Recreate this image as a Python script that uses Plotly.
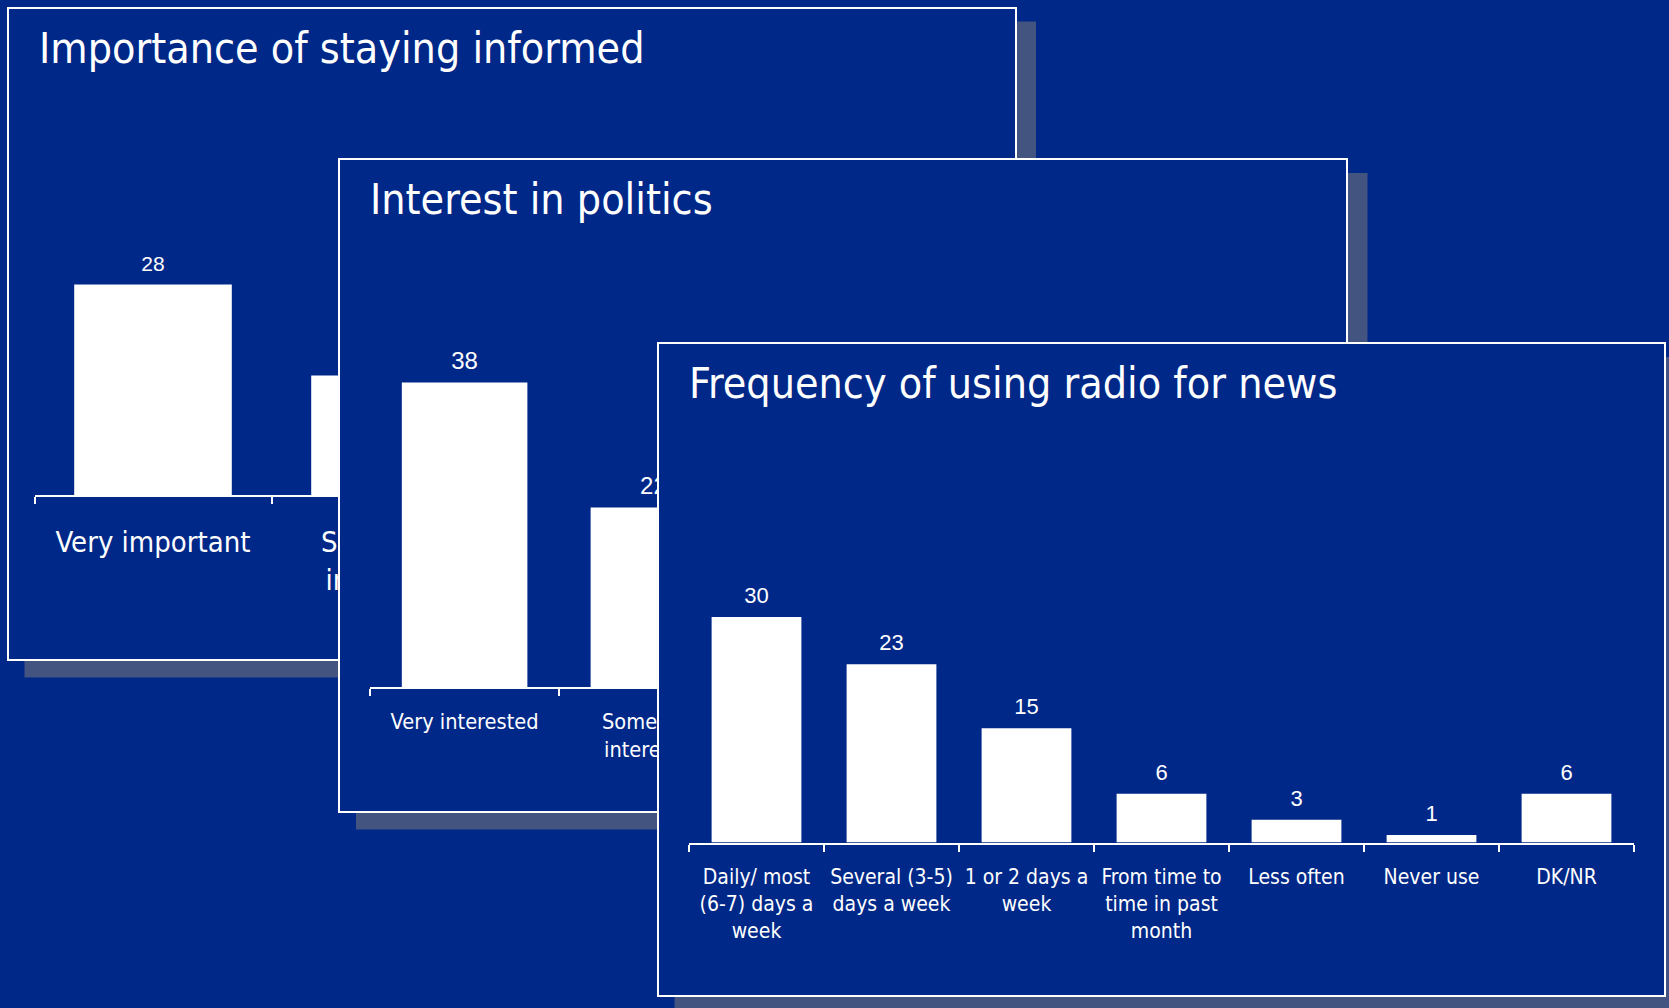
import plotly.graph_objects as go

W, H = 1669, 1008
BG = '#002888'
SHADOW = '#435480'

# ---------------- data ----------------
titles = ["Importance of staying informed", "Interest in politics",
          "Frequency of using radio for news"]

imp_cats = ["Very important", "Somewhat<br>important", "Not very<br>important",
            "Not at all<br>important"]
imp_vals = [28.0, 15.9, 31.0, 23.0]

pol_cats = ["Very interested", "Somewhat<br>interested", "Not very<br>interested",
            "Not at all<br>interested", "DK/NR"]
pol_vals = [38.0, 22.4, 20.0, 18.0, 2.0]

radio_cats = ["Daily/ most<br>(6-7) days a<br>week", "Several (3-5)<br>days a week",
              "1 or 2 days a<br>week", "From time to<br>time in past<br>month",
              "Less often", "Never use", "DK/NR"]
radio_vals = [29.6, 23.4, 15.0, 6.4, 3.0, 1.0, 6.4]

# ---------------- layout (pixels) ----------------
panels = [
    dict(box=(7.5, 7.5, 1015.5, 660), plot=(34.5, 100, 982.5, 495), ppu=7.52,
         tick_font=29, val_font=21, msize=12, standoff=20),
    dict(box=(339, 159, 1347, 812), plot=(370.2, 250, 1314.2, 687), ppu=8.01,
         tick_font=21.6, val_font=24, msize=10, standoff=14),
    dict(box=(657.5, 343, 1665, 996), plot=(689, 430, 1634, 842.5), ppu=7.62,
         tick_font=21, val_font=22, msize=12, standoff=14),
]
series = [(imp_cats, imp_vals), (pol_cats, pol_vals), (radio_cats, radio_vals)]

TITLE_FONT = "DejaVu Sans Condensed, DejaVu Sans, sans-serif"
LABEL_FONT = "DejaVu Sans Condensed, DejaVu Sans, sans-serif"
VALUE_FONT = "Liberation Sans, Arial, sans-serif"


def fx(px):
    return px / W


def fy(py):
    return 1 - py / H


def ax_name(kind, i):
    return f"{kind}axis" if i == 1 else f"{kind}axis{i}"


def ax_ref(kind, i):
    return kind if i == 1 else f"{kind}{i}"


fig = go.Figure()
lay = {}
shapes = []
annotations = []

for k, (p, (cats, vals), title) in enumerate(zip(panels, series, titles)):
    fi = 2 * k + 1
    bi = 2 * k + 2
    x0, y0, x1, y1 = p["box"]

    # frame subplot (panel background + border)
    fig.add_trace(go.Scatter(x=[None], y=[None], mode="markers", showlegend=False,
                             hoverinfo="skip", xaxis=ax_ref("x", fi), yaxis=ax_ref("y", fi)))
    frame_common = dict(range=[0, 1], showline=True, mirror=True, linecolor="white",
                        linewidth=2, showgrid=False, zeroline=False,
                        showticklabels=False, ticks="", fixedrange=True, automargin=False)
    lay[ax_name("x", fi)] = dict(domain=[fx(x0 + 1), fx(x1 - 1)], anchor=ax_ref("y", fi),
                                 **frame_common)
    lay[ax_name("y", fi)] = dict(domain=[fy(y1 - 1), fy(y0 + 1)], anchor=ax_ref("x", fi),
                                 **frame_common)

    # bars
    px0, py0, px1, py1 = p["plot"]
    ymax = (py1 - py0) / p["ppu"]
    fig.add_trace(go.Bar(x=cats, y=vals, marker=dict(color="white", line=dict(width=0)),
                         showlegend=False, hoverinfo="skip",
                         xaxis=ax_ref("x", bi), yaxis=ax_ref("y", bi)))
    fig.add_trace(go.Scatter(x=cats, y=vals, mode="markers+text", texttemplate="%{y:.0f}",
                             textposition="top center",
                             marker=dict(size=p["msize"], color="rgba(0,0,0,0)"),
                             textfont=dict(family=VALUE_FONT, size=p["val_font"], color="white"),
                             showlegend=False, hoverinfo="skip",
                             xaxis=ax_ref("x", bi), yaxis=ax_ref("y", bi)))
    lay[ax_name("x", bi)] = dict(
        domain=[fx(px0), fx(px1)], anchor=ax_ref("y", bi), type="category",
        categoryorder="array", categoryarray=cats, range=[-0.5, len(cats) - 0.5],
        showline=True, linecolor="white", linewidth=2, ticks="outside",
        tickson="boundaries", ticklen=7, tickwidth=2, tickcolor="white",
        tickangle=0, ticklabelstandoff=p["standoff"],
        tickfont=dict(family=LABEL_FONT, size=p["tick_font"], color="white"),
        showgrid=False, zeroline=False, fixedrange=True, automargin=False)
    lay[ax_name("y", bi)] = dict(
        domain=[fy(py1), fy(py0)], anchor=ax_ref("x", bi), range=[0, ymax],
        visible=False, showgrid=False, zeroline=False, fixedrange=True)

    # shadow (L-shaped strip right/below the panel)
    sx0, sy0, sx1, sy1 = x0 + 17, y0 + 14, x1 + 20.5, y1 + 17.5
    path = (f"M {fx(x1)} {fy(sy0)} L {fx(sx1)} {fy(sy0)} L {fx(sx1)} {fy(sy1)} "
            f"L {fx(sx0)} {fy(sy1)} L {fx(sx0)} {fy(y1)} L {fx(x1)} {fy(y1)} Z")
    shapes.append(dict(type="path", path=path, xref="paper", yref="paper",
                       fillcolor=SHADOW, line=dict(width=0), layer="below"))

    # title
    annotations.append(dict(text=title, x=fx(x0 + 29), y=fy(y0 + 13), xref="paper",
                            yref="paper", xanchor="left", yanchor="top", showarrow=False,
                            font=dict(family=TITLE_FONT, size=42.6, color="white")))

fig.update_layout(
    width=W, height=H, margin=dict(l=0, r=0, t=0, b=0, pad=0),
    paper_bgcolor=BG, plot_bgcolor=BG, bargap=0.335, hovermode=False,
    showlegend=False, shapes=shapes, annotations=annotations, **lay)

fig.write_html("out.html", config=dict(displayModeBar=False))
